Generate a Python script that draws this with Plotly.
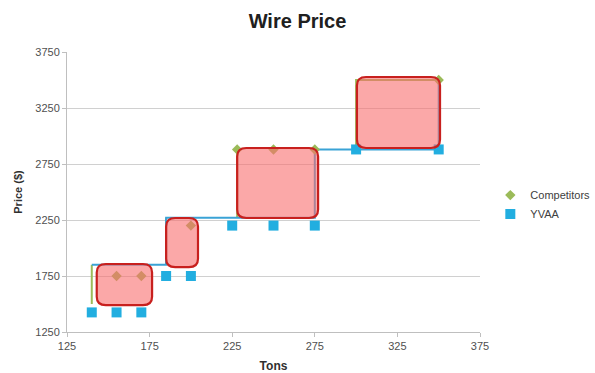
import plotly.graph_objects as go

# Price points per tonnage
yvaa_tons = [140, 155, 170, 185, 200, 225, 250, 275, 300, 350]
yvaa_price = [1425, 1425, 1425, 1750, 1750, 2200, 2200, 2200, 2880, 2880]

comp_tons = [155, 170, 200, 228, 250, 275, 350]
comp_price = [1750, 1750, 2200, 2880, 2880, 2880, 3500]

# Step outlines of the price tiers
yvaa_step_tons = [140, 185, 185, 275, 275, 350, 350]
yvaa_step_price = [1850, 1850, 2270, 2270, 2880, 2880, 3500]

comp_step_tons = [140, 140, None, 185, 185, None, 228, 228, None, 300, 300, 350]
comp_step_price = [1500, 1850, None, 1850, 2270, None, 2270, 2880, None, 2880, 3500, 3500]

# Highlighted price bands: (tons from, tons to, price from, price to)
band_tons = [(143, 176.5), (185, 204.3), (228, 277), (300.5, 350.8)]
band_price = [(1490, 1857), (1830, 2268), (2268, 2893), (2893, 3527)]

x_ticks = [125, 175, 225, 275, 325, 375]
y_ticks = [1250, 1750, 2250, 2750, 3250, 3750]

GREEN = "#9bbb59"
BLUE = "#22aee0"
LINE_BLUE = "#3aa3d6"

fig = go.Figure()

fig.add_trace(go.Scatter(x=comp_step_tons, y=comp_step_price, mode="lines",
                         line=dict(color=GREEN, width=2), showlegend=False,
                         hoverinfo="skip"))
fig.add_trace(go.Scatter(x=yvaa_step_tons, y=yvaa_step_price, mode="lines",
                         line=dict(color=LINE_BLUE, width=2), showlegend=False,
                         hoverinfo="skip"))
fig.add_trace(go.Scatter(x=comp_tons, y=comp_price, mode="markers", name="Competitors",
                         marker=dict(symbol="diamond", size=8, color=GREEN)))
fig.add_trace(go.Scatter(x=yvaa_tons, y=yvaa_price, mode="markers", name="YVAA",
                         marker=dict(symbol="square", size=10, color=BLUE)))


def rounded_rect(x0, x1, y0, y1, rx, ry):
    return (f"M {x0 + rx},{y0} L {x1 - rx},{y0} "
            f"Q {x1},{y0} {x1},{y0 + ry} L {x1},{y1 - ry} "
            f"Q {x1},{y1} {x1 - rx},{y1} L {x0 + rx},{y1} "
            f"Q {x0},{y1} {x0},{y1 - ry} L {x0},{y0 + ry} "
            f"Q {x0},{y0} {x0 + rx},{y0} Z")


for (tx0, tx1), (py0, py1) in zip(band_tons, band_price):
    fig.add_shape(type="path", path=rounded_rect(tx0, tx1, py0, py1, 5.5, 75),
                  xref="x", yref="y", layer="above",
                  fillcolor="rgba(248,110,110,0.6)",
                  line=dict(color="#c8201e", width=2.2))

fig.update_layout(
    width=595, height=373,
    margin=dict(l=67, r=115, t=52, b=41, autoexpand=False),
    paper_bgcolor="white", plot_bgcolor="white",
    font=dict(family="Liberation Sans, Arial, sans-serif", size=11, color="#404040"),
    title=dict(text="<b>Wire Price</b>", x=0.5, xanchor="center", y=0.945, yanchor="middle",
               font=dict(size=20, color="#202020")),
    legend=dict(x=1.025, xanchor="left", y=0.455, yanchor="middle",
                font=dict(size=11, color="#404040"), itemwidth=30,
                tracegroupgap=0, bgcolor="rgba(0,0,0,0)"),
    showlegend=True,
)

fig.update_xaxes(range=[125, 375], tickvals=x_ticks, ticktext=[str(v) for v in x_ticks],
                 showgrid=False, zeroline=False, showline=True, linecolor="#bfbfbf",
                 linewidth=1, ticks="outside", ticklen=4, tickcolor="#bfbfbf",
                 automargin=False,
                 tickfont=dict(size=11, color="#505050"),
                 title=dict(text="<b>Tons</b>", font=dict(size=12, color="#303030"), standoff=12))
fig.update_yaxes(range=[1250, 3750], tickvals=y_ticks, ticktext=[str(v) for v in y_ticks],
                 showgrid=True, gridcolor="#d0d0d0", gridwidth=1, zeroline=False,
                 showline=True, linecolor="#bfbfbf", linewidth=1,
                 ticks="outside", ticklen=4, tickcolor="#bfbfbf",
                 automargin=False,
                 tickfont=dict(size=11, color="#505050"),
                 title=dict(text="<b>Price ($)</b>", font=dict(size=11, color="#303030"), standoff=10))

fig.write_html("out.html")
